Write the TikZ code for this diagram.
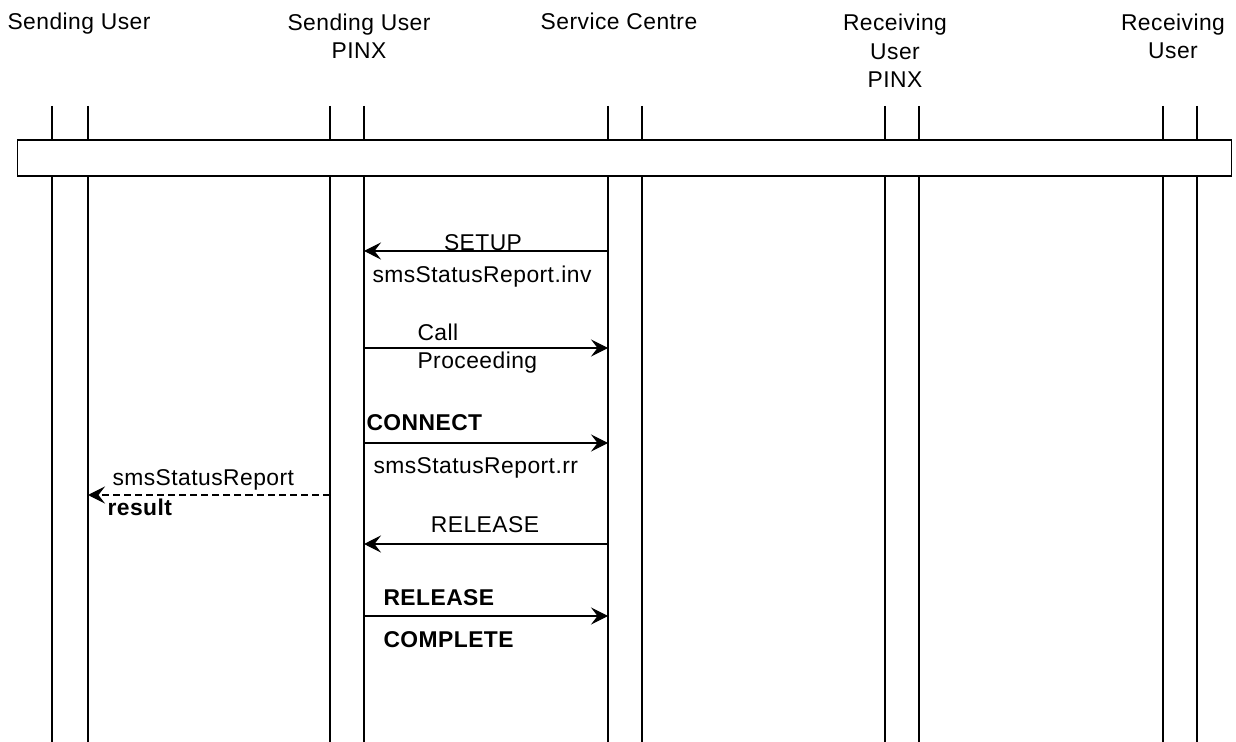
\documentclass[tikz,border=0pt]{standalone}
\usepackage{fontspec}
\setmainfont{Liberation Sans}[LetterSpace=2]
\usetikzlibrary{arrows.meta}
\usetikzlibrary{positioning}

\begin{document}
\begin{tikzpicture}[x=0.02cm, y=-0.02cm, line width=0.6pt, inner sep=0pt,
  font=\fontsize{13}{16.4}\selectfont,
  head/.style={align=center, anchor=base},
  lbl/.style={align=left, anchor=base west},
  msg/.style={-{Stealth[length=3.4mm, width=3.4mm, inset=1.3mm]}},
  reply/.style={msg, dash pattern=on 4pt off 2.3pt}]

\useasboundingbox (0,0) rectangle (1236,742);

% lifelines
\foreach \x in {52,88,330,364,608,642,885,919,1163,1197}
  \draw (\x,106) -- (\x,742);

\node [draw, fill=white, minimum width=24.3cm, minimum height=0.72cm] (bar) at (624.5,158) {};

% base anchor sits on the last line
\node [head] (su) at (79,30) {Sending User};
\node [head] (sp) at (359,59) {Sending User\\PINX};
\node [head] (sc) at (619,30) {Service Centre};
\node [head] (rp) at (895,88) {Receiving\\User\\PINX};
\node [head] (ru) at (1173,59) {Receiving\\User};

\coordinate (sc_1) at (608,251);
\coordinate (sp_1) at (364,251);
\coordinate (sp_2) at (364,348);
\coordinate (sc_2) at (608,348);
\coordinate (sp_3) at (364,443);
\coordinate (sc_3) at (608,443);
\coordinate (spl_4) at (330,495);
\coordinate (su_4) at (88,495);
\coordinate (sc_5) at (608,544);
\coordinate (sp_5) at (364,544);
\coordinate (sp_6) at (364,616);
\coordinate (sc_6) at (608,616);

\node [head] (setup) at (483,251) {SETUP};
\node [lbl] (inv) at (372,283) {smsStatusReport.inv};
\node [lbl] (callproc) at (417,369) {Call\\Proceeding};
\node [lbl] (connect) at (366,431) {\textbf{CONNECT}};
\node [lbl] (rr) at (373,474) {smsStatusReport.rr};
\node [lbl] (report) at (112,485) {smsStatusReport};
\node [lbl] (result) at (107,515) {\textbf{result}};
\node [head] (release) at (485,532) {RELEASE};
\node [lbl] (relcomp) at (383,605) {\textbf{RELEASE}};
\node [lbl] (complete) at (383,647) {\textbf{COMPLETE}};

\path [msg]
  (sc_1) edge (sp_1)
  (sp_2) edge (sc_2)
  (sp_3) edge (sc_3)
  (spl_4) edge [reply] (su_4)
  (sc_5) edge (sp_5)
  (sp_6) edge (sc_6);

\end{tikzpicture}
\end{document}
